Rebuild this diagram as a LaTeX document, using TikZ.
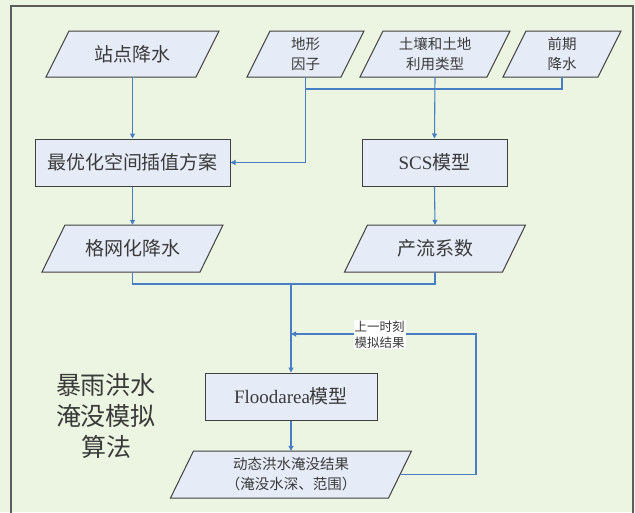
\documentclass[tikz,border=0pt]{standalone}
\usepackage{fontspec}
\setmainfont{Liberation Serif}
\newfontfamily\cjk{Noto Sans CJK SC}
\usetikzlibrary{arrows.meta,calc}
\definecolor{bgc}{HTML}{EBF5E1}
\definecolor{boxc}{HTML}{E6ECF7}
\definecolor{edgec}{HTML}{404040}
\definecolor{linec}{HTML}{4A7EC4}
\definecolor{txtc}{HTML}{3A3A3A}
\tikzset{
  boxst/.style={draw=edgec, line width=1pt, fill=boxc, inner sep=0pt, text=txtc},
  parast/.style={draw=edgec, line width=1pt, fill=boxc},
  paranodest/.style={inner sep=0pt, text=txtc, align=center},
  conn/.style={draw=linec, line width=1.1pt},
  arr/.style={conn, -{Triangle[width=5pt,length=5pt]}},
  bigf/.style={font=\cjk\fontsize{19}{22}\selectfont},
  smallf/.style={font=\cjk\fontsize{14.5}{20}\selectfont},
}
\newcommand\paranode[7]{%
  \path[parast] ({#2-#4/2-11.5},{#3+#5/2}) -- ({#2+#4/2-11.5},{#3+#5/2})
     -- ({#2+#4/2+11.5},{#3-#5/2}) -- ({#2-#4/2+11.5},{#3-#5/2}) -- cycle;
  \node[paranodest, #7, minimum width=#4pt, minimum height=#5pt] (#1) at (#2,#3) {#6};}
\begin{document}
\begin{tikzpicture}[x=1pt,y=-1pt]
\path[fill=bgc] (0,0) rectangle (635,512);
\useasboundingbox (0,0) rectangle (635,512);
\draw[draw=edgec!85, line width=1.5pt] (11,520) -- (11,6) -- (633,6) -- (633,520);

% input parallelograms
\paranode{zd}{132.5}{54}{150}{46}{站点降水}{bigf}
\paranode{dx}{305.5}{54}{94}{46}{地形\\因子}{smallf}
\paranode{tr}{435}{54}{127}{46}{土壤和土地\\利用类型}{smallf}
\paranode{qq}{562}{54}{95}{46}{前期\\降水}{smallf}

% boxes
\node[boxst, bigf, minimum width=195pt, minimum height=47pt] (best) at (132.5,162.5)
  {最优化空间插值方案};
\node[boxst, minimum width=145pt, minimum height=47pt] (scs) at (434.5,162.5)
  {\fontsize{19}{22}\selectfont SCS{\cjk 模型}};

\paranode{gw}{132.5}{248.5}{158}{47}{格网化降水}{bigf}
\paranode{cl}{435}{248.5}{158}{47}{产流系数}{bigf}

\node[boxst, minimum width=172pt, minimum height=47pt] (fl) at (291,396.5)
  {\fontsize{19}{22}\selectfont Floodarea{\cjk 模型}};
\paranode{dt}{291}{474.5}{218}{47}{动态洪水淹没结果\\（淹没水深、范围）}{smallf}

% big label
\node[text=txtc, align=center, font=\cjk\fontsize{25}{31}\selectfont] (title) at (106,416)
  {暴雨洪水\\淹没模拟\\算法};

% connectors
\coordinate (bus) at (305.5,89);
\coordinate (jn) at (291,284);
\coordinate (fb) at (476,334);

\draw[arr] (zd.south) -- (best.north);
\draw[arr] (dx.south) |- (best.east);
\draw[conn] (qq.south) |- (bus);
\draw[arr] (tr.south) -- (scs.north);
\draw[arr] (best.south) -- (gw.north);
\draw[arr] (scs.south) -- (cl.north);
\draw[conn] (gw.south) |- (cl.south |- jn) -- (cl.south);
\draw[arr] (jn) -- (fl.north);
\draw[arr] (fl.south) -- (dt.north);
\draw[arr] (dt.east) -| (fb) -- (jn |- fb);
\node[fill=white, inner sep=1pt, text=txtc, align=center,
  font=\cjk\fontsize{12.5}{16}\selectfont] (fblabel) at (379.5,334.5) {上一时刻\\模拟结果};
\end{tikzpicture}
\end{document}
